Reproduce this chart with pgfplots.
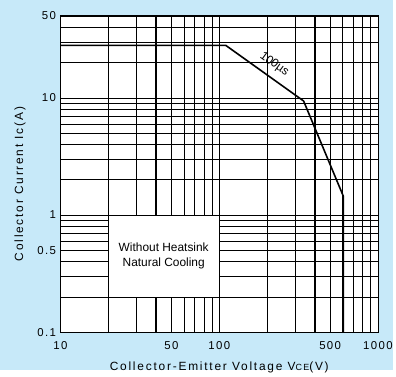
\documentclass[border=0pt]{standalone}
\usepackage{fontspec}
\setmainfont{Liberation Sans}
\newfontfamily\spaced[LetterSpace=12]{Liberation Sans}
\newfontfamily\wide[LetterSpace=15]{Liberation Sans}
\usepackage{pgfplots}
\pgfplotsset{compat=1.18}
\definecolor{bgblue}{RGB}{199,233,249}
\begin{document}
\begin{tikzpicture}[x=1pt,y=1pt]
\fill[bgblue] (-61,-38) rectangle (335,335);
\begin{axis}[
  at={(0,0)}, anchor=south west,
  scale only axis, width=320pt, height=319pt,
  xmode=log, ymode=log,
  xmin=10, xmax=1000, ymin=0.1, ymax=50,
  axis background/.style={fill=white},
  axis line style={black, line width=0.9pt},
  xtick={10,20,30,40,50,60,70,80,90,100,200,300,400,500,600,700,800,900,1000},
  xticklabels={10,,,,50,,,,,100,,,,500,,,,,1000},
  ytick={0.1,0.2,0.3,0.4,0.5,0.6,0.7,0.8,0.9,1,2,3,4,5,6,7,8,9,10,20,30,40,50},
  yticklabels={0.1,,,,0.5,,,,,1,,,,,,,,,10,,,,50},
  extra x ticks={40,400},
  extra x tick labels={},
  extra x tick style={grid style={black, line width=1.6pt}},
  grid=major,
  grid style={black, line width=0.6pt},
  major tick length=0pt,
  minor tick length=0pt,
  /pgf/number format/assume math mode=true,
  tick label style={font=\fontsize{11.5}{13}\spaced},
  xticklabel style={yshift=-6pt},
  yticklabel style={xshift=-1pt},
  xlabel={Collector-Emitter Voltage V{\fontsize{9}{10}\selectfont CE}(V)},
  ylabel={Collector Current Ic(A)},
  label style={font=\fontsize{12}{14}\wide},
  xlabel style={yshift=-5pt},
  ylabel style={yshift=5pt, xshift=-10pt},
  clip=true,
]
\addplot[black, line width=1.6pt] coordinates {
  (10,28) (110,28) (340,9.4) (605,1.45) (605,0.1)
};
\node[rotate=-36, font=\fontsize{12}{13}\selectfont, inner sep=0pt] at (axis cs:222,19.3) {100µs};
\draw[black, line width=0.8pt, fill=white] (axis cs:20,0.2) rectangle (axis cs:100,1);
\node[align=center, font=\fontsize{12}{14.5}\selectfont] at (axis cs:44.7,0.447) {Without Heatsink\\Natural Cooling};
\end{axis}
\end{tikzpicture}
\end{document}
